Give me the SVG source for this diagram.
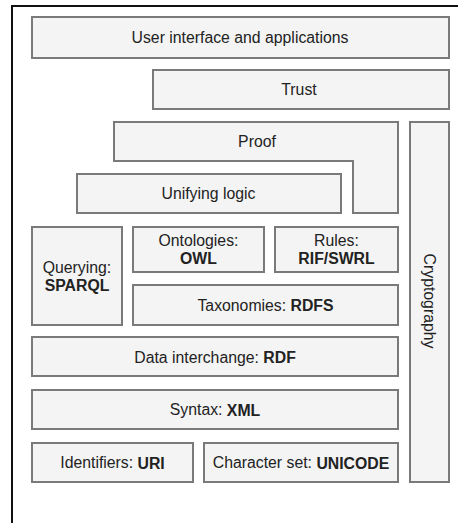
<svg xmlns="http://www.w3.org/2000/svg" width="458" height="523" viewBox="0 0 458 523">
  <style>
    .layer { fill: #f4f4f4; stroke: #7a7a7a; stroke-width: 2; }
    .lbl { font-family: "Liberation Sans", Arial, sans-serif; font-size: 15.8px; fill: #222; text-anchor: middle; dominant-baseline: central; }
    .b { font-weight: bold; }
    .frame { fill: none; stroke: #111; stroke-width: 2; }
  </style>
  <rect width="458" height="523" fill="#ffffff"/>
  <!-- outer frame (open to the right and bottom) -->
  <path class="frame" d="M12 523 V6 H458"/>

  <g id="ui">
    <rect class="layer" x="32" y="17" width="417" height="41"/>
    <text class="lbl" x="240" y="37.5">User interface and applications</text>
  </g>
  <g id="trust">
    <rect class="layer" x="153" y="70" width="296" height="39"/>
    <text class="lbl" x="299" y="89.5">Trust</text>
  </g>
  <g id="proof">
    <polygon class="layer" points="114,122 398,122 398,213 353,213 353,161 114,161"/>
    <text class="lbl" x="257" y="141.5">Proof</text>
  </g>
  <g id="crypto">
    <rect class="layer" x="410" y="122" width="39" height="360"/>
    <text class="lbl" transform="translate(429.5 301) rotate(90)" x="0" y="0">Cryptography</text>
  </g>
  <g id="logic">
    <rect class="layer" x="77" y="174" width="264" height="39"/>
    <text class="lbl" x="208.5" y="193.5">Unifying logic</text>
  </g>
  <g id="query">
    <rect class="layer" x="32" y="227" width="90" height="98"/>
    <text class="lbl" x="77" y="267">Querying:</text>
    <text class="lbl b" x="77" y="285">SPARQL</text>
  </g>
  <g id="owl">
    <rect class="layer" x="133" y="227" width="131" height="45"/>
    <text class="lbl" x="198.5" y="240.5">Ontologies:</text>
    <text class="lbl b" x="198.5" y="258">OWL</text>
  </g>
  <g id="rules">
    <rect class="layer" x="275" y="227" width="123" height="45"/>
    <text class="lbl" x="336.5" y="240.5">Rules:</text>
    <text class="lbl b" x="336.5" y="258">RIF/SWRL</text>
  </g>
  <g id="rdfs">
    <rect class="layer" x="133" y="285" width="265" height="40"/>
    <text class="lbl" x="265.5" y="305">Taxonomies: <tspan class="b">RDFS</tspan></text>
  </g>
  <g id="rdf">
    <rect class="layer" x="32" y="337" width="366" height="39"/>
    <text class="lbl" x="215" y="357">Data interchange: <tspan class="b">RDF</tspan></text>
  </g>
  <g id="xml">
    <rect class="layer" x="32" y="390" width="366" height="39"/>
    <text class="lbl" x="215" y="409.5">Syntax: <tspan class="b">XML</tspan></text>
  </g>
  <g id="uri">
    <rect class="layer" x="32" y="443" width="161" height="39"/>
    <text class="lbl" x="112.5" y="462.5">Identifiers: <tspan class="b">URI</tspan></text>
  </g>
  <g id="unicode">
    <rect class="layer" x="204" y="443" width="194" height="39"/>
    <text class="lbl" x="301" y="462.5">Character set: <tspan class="b">UNICODE</tspan></text>
  </g>
  <g id="connectors"/>
</svg>
